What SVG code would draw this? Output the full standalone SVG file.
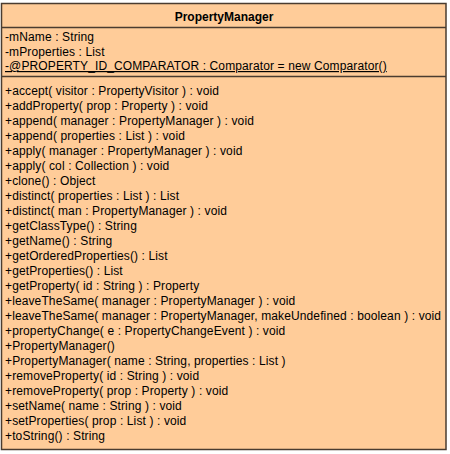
<svg xmlns="http://www.w3.org/2000/svg" width="450" height="454" viewBox="0 0 450 454">
<style>
.box{fill:#FFCC99;stroke:#4a3c30;stroke-width:1.5}
.sep{stroke:#4a3c30;stroke-width:1.5}
text{font-family:"Liberation Sans",Arial,sans-serif;font-size:12px;fill:#000;letter-spacing:0.12px}
.title{font-weight:bold;text-anchor:middle;letter-spacing:0}
</style>
<rect width="450" height="454" fill="#ffffff"/>
<g id="PropertyManager">
<rect class="box" x="1.5" y="3.5" width="444.5" height="446"/>
<line class="sep" x1="1.5" y1="27.5" x2="446" y2="27.5"/>
<line class="sep" x1="1.5" y1="76.5" x2="446" y2="76.5"/>
<text class="title" x="224" y="20.5">PropertyManager</text>
<text x="5" y="41">-mName : String</text>
<text x="5" y="55.5">-mProperties : List</text>
<text x="5" y="70" text-decoration="underline">-@PROPERTY_ID_COMPARATOR : Comparator = new Comparator()</text>
<text x="5" y="95">+accept( visitor : PropertyVisitor ) : void</text>
<text x="5" y="110">+addProperty( prop : Property ) : void</text>
<text x="5" y="125">+append( manager : PropertyManager ) : void</text>
<text x="5" y="140">+append( properties : List ) : void</text>
<text x="5" y="155">+apply( manager : PropertyManager ) : void</text>
<text x="5" y="170">+apply( col : Collection ) : void</text>
<text x="5" y="185">+clone() : Object</text>
<text x="5" y="200">+distinct( properties : List ) : List</text>
<text x="5" y="215">+distinct( man : PropertyManager ) : void</text>
<text x="5" y="230">+getClassType() : String</text>
<text x="5" y="245">+getName() : String</text>
<text x="5" y="260">+getOrderedProperties() : List</text>
<text x="5" y="275">+getProperties() : List</text>
<text x="5" y="290">+getProperty( id : String ) : Property</text>
<text x="5" y="305">+leaveTheSame( manager : PropertyManager ) : void</text>
<text x="5" y="320">+leaveTheSame( manager : PropertyManager, makeUndefined : boolean ) : void</text>
<text x="5" y="335">+propertyChange( e : PropertyChangeEvent ) : void</text>
<text x="5" y="350">+PropertyManager()</text>
<text x="5" y="365">+PropertyManager( name : String, properties : List )</text>
<text x="5" y="380">+removeProperty( id : String ) : void</text>
<text x="5" y="395">+removeProperty( prop : Property ) : void</text>
<text x="5" y="410">+setName( name : String ) : void</text>
<text x="5" y="425">+setProperties( prop : List ) : void</text>
<text x="5" y="440">+toString() : String</text>
</g>
</svg>
